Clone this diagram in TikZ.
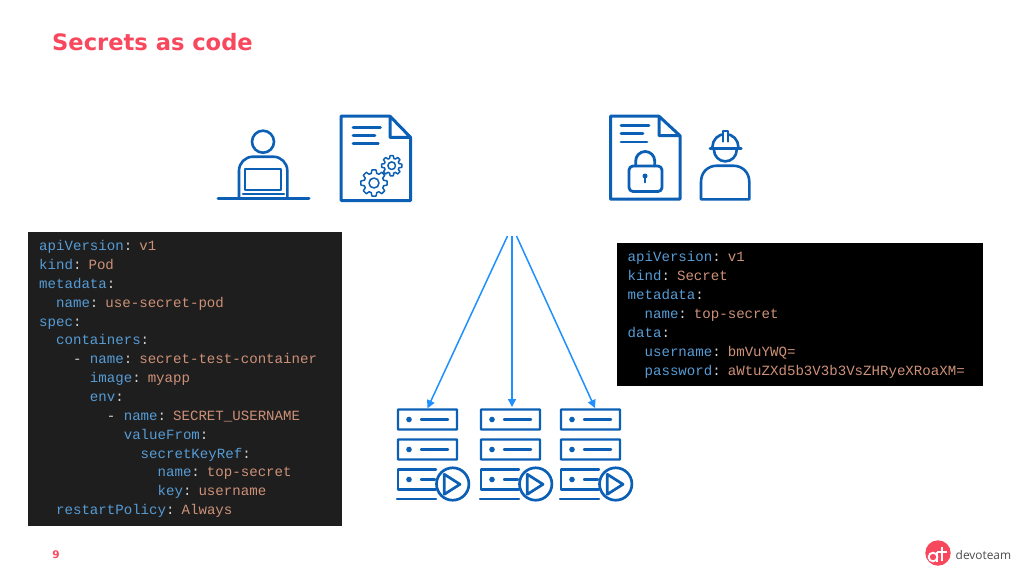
\documentclass[tikz,border=0pt]{standalone}
\usepackage{fontspec}
\usetikzlibrary{arrows.meta}
\setmainfont{DejaVu Sans}
\setmonofont{Liberation Mono}
\newfontfamily\logofont{Open Sans}
\definecolor{accentred}{HTML}{F8485E}
\definecolor{iconblue}{HTML}{0B60B5}
\definecolor{arrowblue}{HTML}{1E90FF}
\definecolor{keyblue}{HTML}{569CD6}
\definecolor{valsalmon}{HTML}{CE9178}
\definecolor{punct}{HTML}{D4D4D4}
\definecolor{darkbox}{HTML}{1E1E1E}
\newcommand{\Ky}[1]{\textcolor{keyblue}{#1}\textcolor{punct}{:}}
\newcommand{\Vl}[1]{\textcolor{valsalmon}{#1}}
\newcommand{\Ind}[1]{\hspace*{#1\dimexpr 0.6em\relax}}
\newcommand{\Dsh}{\makebox[1.2em][l]{\textcolor{punct}{-}}}
\newcommand{\gearpath}[4]{%
  \begin{scope}[shift={(#1,#2)}]
  \draw[gearline,fill=white] (-16:#4) \foreach \g in {0,45,...,315} {
    -- ({\g-16}:#4) -- ({\g-9}:#3) -- ({\g+9}:#3) -- ({\g+16}:#4) } -- cycle;
  \draw[gearline] (0,0) circle[radius=#4*0.5];
  \end{scope}}
\tikzset{
  x=1pt,y=-1pt,
  icon/.style={draw=iconblue,line width=2.6,line join=round,line cap=round},
  thin icon/.style={draw=iconblue,line width=2.4,line join=round,line cap=round},
  gearline/.style={draw=iconblue,line width=1.5,line join=round},
  flow/.style={draw=arrowblue,line width=1.5,-{Triangle[length=8pt,width=8pt]}},
  codebox/.style={anchor=north west,inner xsep=11pt,inner ysep=0pt,align=left,
    font=\ttfamily\fontsize{14.1}{18.85}\selectfont,text=punct},
  serverbox/.style={draw=iconblue,line width=2.4,rounded corners=0.6pt,minimum width=59,minimum height=20,inner sep=0pt,anchor=center},
  servergroup/.pic={
    \node[serverbox] (-top) at (29.5,10) {};
    \node[serverbox] (-mid) at (29.5,40) {};
    \fill[iconblue] (11,10) circle[radius=2.8] (11,40) circle[radius=2.8] (11,70) circle[radius=2.8];
    \draw[thin icon] (23,10) -- (50,10) (23,40) -- (50,40) (23,70) -- (37,70);
    \draw[thin icon] (38,80) -- (0,80) -- (0,60) -- (38,60);
    \draw[thin icon] (-1,89.2) -- (38,89.2);
    \draw[thin icon,line width=2.7,fill=white] (54.7,74.5) circle[radius=16.2];
    \draw[thin icon,line width=2.7] (46.3,64.8) -- (46.3,84.8) -- (62,74.8) -- cycle;
  },
}
\begin{document}
\begin{tikzpicture}
\useasboundingbox (0,0) rectangle (1024,576);
\fill[white] (0,0) rectangle (1024,576);

\node[anchor=base west,inner sep=0pt,text=accentred,font=\bfseries\fontsize{22.6}{26}\selectfont] (title) at (52,50) {Secrets as code};

% developer
\draw[icon] (263,141.7) circle[radius=11];
\draw[icon,rounded corners=14] (239,198) -- (239,156.7) -- (287.3,156.7) -- (287.3,198);
\draw[icon,line width=2.3] (245,169.3) rectangle (281,190);
\draw[icon,line width=2.3] (243,194.3) -- (284,194.3);
\draw[icon,line width=3] (218,198.7) -- (309,198.7);

% config document
\draw[icon,line width=3] (390,116.2) -- (341,116.2) -- (341,200.5) -- (410.5,200.5) -- (410.5,137.3) -- (390,116.2) -- (390,137.3) -- (410.5,137.3);
\draw[icon,line width=2.8] (353,127.3) -- (380.5,127.3) (353,135.3) -- (375,135.3) (353,143.3) -- (378.3,143.3);
\gearpath{374}{183}{13.2}{10}
\gearpath{391.7}{165.7}{10.2}{7.6}

% secret document
\draw[icon,line width=3] (659,116.2) -- (610.5,116.2) -- (610.5,199.2) -- (680,199.2) -- (680,135.7) -- (659,116.2) -- (659,135.7) -- (680,135.7);
\draw[icon,line width=2.8] (621,125.3) -- (649,125.3) (621,133.7) -- (643,133.7) (621,142) -- (647,142);
\draw[icon,line width=2.8,rounded corners=4] (629,166) rectangle (662,191.5);
\draw[icon,line width=2.8] (635.7,166) -- (635.7,161) arc[start angle=180,end angle=360,radius=9.5] -- (654.7,166);
\fill[iconblue] (645,176) circle[radius=2.5];
\draw[icon,line width=1.8] (645,176) -- (645,182.5);

% worker
\draw[icon] (714,150) arc[start angle=180,end angle=0,radius=11.35];
\draw[icon] (710,148.4) -- (741.3,148.4);
\draw[icon] (712.4,147) arc[start angle=180,end angle=360,radius=13];
\draw[icon,line width=2.2,fill=white] (723,141.5) -- (723,131) -- (728,131) -- (728,141.5);
\draw[icon] (701,199.3) -- (701,182) .. controls (701,172) and (708,165.7) .. (717,165.7) -- (733,165.7) .. controls (742,165.7) and (749.3,172) .. (749.3,182) -- (749.3,199.3) -- cycle;

% code boxes
\node[codebox,fill=darkbox,minimum width=313.5,minimum height=294.5,text width=291.5pt] (pod) at (28,231.5) {%
\Ky{apiVersion} \Vl{v1}\\
\Ky{kind} \Vl{Pod}\\
\Ky{metadata}\\
\Ind{2}\Ky{name} \Vl{use-secret-pod}\\
\Ky{spec}\\
\Ind{2}\Ky{containers}\\
\Ind{4}\Dsh\Ky{name} \Vl{secret-test-container}\\
\Ind{6}\Ky{image} \Vl{myapp}\\
\Ind{6}\Ky{env}\\
\Ind{8}\Dsh\Ky{name} \Vl{SECRET\_USERNAME}\\
\Ind{10}\Ky{valueFrom}\\
\Ind{12}\Ky{secretKeyRef}\\
\Ind{14}\Ky{name} \Vl{top-secret}\\
\Ind{14}\Ky{key} \Vl{username}\\
\Ind{2}\Ky{restartPolicy} \Vl{Always}};

\node[codebox,fill=black,minimum width=366,minimum height=143,text width=344pt,font=\ttfamily\fontsize{14.1}{19.1}\selectfont] (secret) at (616.5,243) {%
\Ky{apiVersion} \Vl{v1}\\
\Ky{kind} \Vl{Secret}\\
\Ky{metadata}\\
\Ind{2}\Ky{name} \Vl{top-secret}\\
\Ky{data}\\
\Ind{2}\Ky{username} \Vl{bmVuYWQ=}\\
\Ind{2}\Ky{password} \Vl{aWtuZXd5b3V3b3VsZHRyeXRoaXM=}};

% servers
\pic (srvA) at (398,409.5) {servergroup};
\pic (srvB) at (481,409.5) {servergroup};
\pic (srvC) at (561,409.5) {servergroup};

% connectors
\coordinate (fromA) at (507.5,236);
\coordinate (fromB) at (512,236);
\coordinate (fromC) at (516.5,236);
\coordinate (toB) at (512,407);
\coordinate (toC) at (595,408);
\draw[flow] (fromA) -- (srvA-top.north);
\draw[flow] (fromB) -- (toB);
\draw[flow] (fromC) -- (toC);

% footer
\node[anchor=base,inner sep=0pt,text=accentred,font=\bfseries\fontsize{10.5}{12}\selectfont] (pagenum) at (56,558) {9};
\fill[accentred] (938,553) circle[radius=12.7];
\draw[white,line width=1.9] (933,557) circle[radius=4.3];
\draw[white,line width=1.9] (937.3,552) -- (937.3,561.5) (937.3,552) -- (947,552) (942,547) -- (942,561);
\node[anchor=base west,inner sep=0pt,text=black!70,font=\logofont\fontsize{11.9}{14}\selectfont] (logotext) at (955.5,559) {devoteam};
\end{tikzpicture}
\end{document}
